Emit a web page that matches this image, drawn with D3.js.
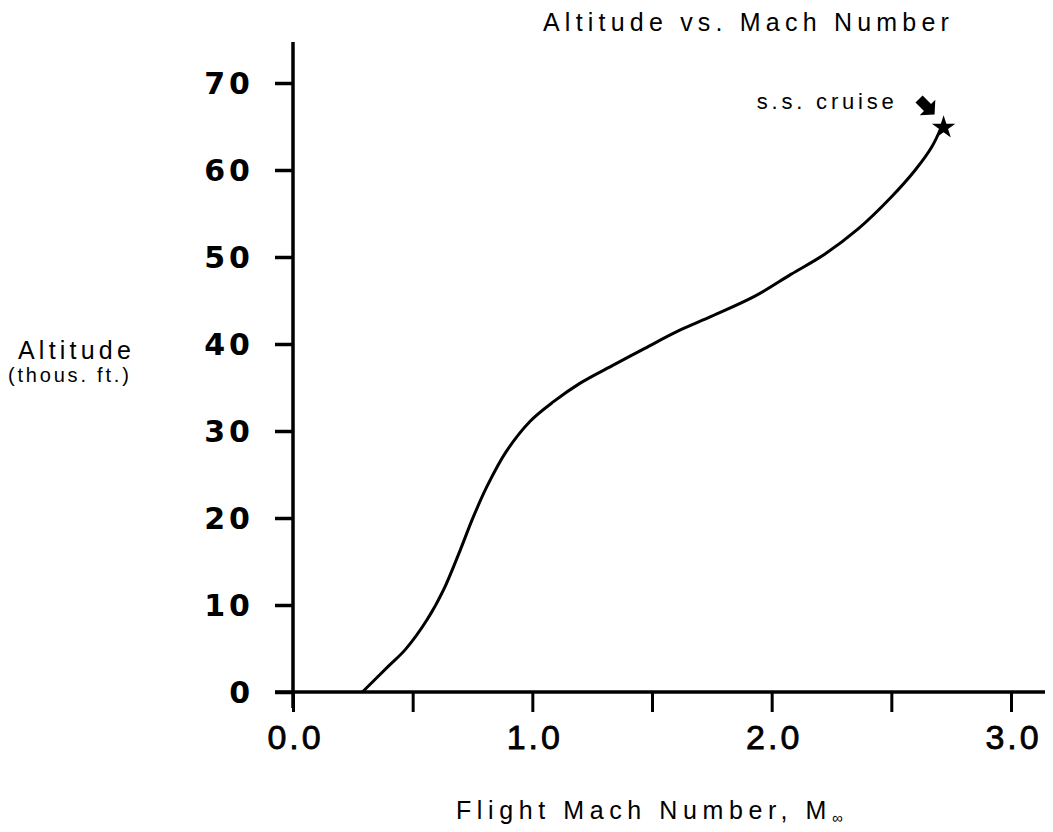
<!DOCTYPE html>
<html>
<head>
<meta charset="utf-8">
<script src="https://cdn.jsdelivr.net/npm/d3@7"></script>
<style>
  html, body { margin: 0; padding: 0; background: #fff; }
  svg { display: block; }
  .tick text { fill: #000; }
</style>
</head>
<body>
<svg id="chart" width="1053" height="832"></svg>
<script>
// ---- data ----
const machNumber = [0.29, 0.40, 0.47, 0.56, 0.63, 0.70, 0.75, 0.81, 0.89, 0.99, 1.09, 1.20, 1.34, 1.47, 1.61, 1.75, 1.93, 2.08, 2.22, 2.36, 2.50, 2.60, 2.67, 2.71];
const altitude   = [0,    3.0,  4.9,  8.3,  11.8, 16.4, 19.9, 23.6, 27.6, 31.1, 33.4, 35.5, 37.6, 39.5, 41.5, 43.2, 45.5, 48.0, 50.3, 53.2, 56.9, 60.0, 62.7, 65.0];
const xTicks = [0, 0.5, 1, 1.5, 2, 2.5, 3];
const yTicks = [0, 10, 20, 30, 40, 50, 60, 70];
const cruisePoint = { mach: 2.71, alt: 65.0, label: "s.s. cruise" };
const titleText = "Altitude vs. Mach Number";

const SANS = "'Liberation Sans', Arial, sans-serif";

// ---- scales ----
const svg = d3.select("#chart");
const x = d3.scaleLinear().domain([0, 3]).range([293, 1011]);
const y = d3.scaleLinear().domain([0, 70]).range([692, 83]);

// ---- axes ----
const yAxis = d3.axisLeft(y).tickValues(yTicks).tickSize(18).tickPadding(21).tickFormat(d3.format("d"));
const gy = svg.append("g").attr("transform", `translate(${x(0)},0)`).call(yAxis);
gy.select(".domain").remove();
gy.selectAll(".tick line").attr("stroke", "#000").attr("stroke-width", 3.5);
gy.selectAll(".tick text")
  .attr("font-family", "'DejaVu Sans', sans-serif")
  .attr("font-weight", "bold").attr("font-size", 30).attr("letter-spacing", 4)
  .attr("dy", "0.36em");

const xAxis = d3.axisBottom(x).tickValues(xTicks).tickSize(20).tickPadding(13)
  .tickFormat(d => Number.isInteger(d) ? d3.format(".1f")(d) : "");
const gx = svg.append("g").attr("transform", `translate(0,${y(0)})`).call(xAxis);
gx.select(".domain").remove();
gx.selectAll(".tick line").attr("stroke", "#000").attr("stroke-width", 3);
gx.selectAll(".tick text")
  .attr("font-family", SANS)
  .attr("font-size", 34).attr("letter-spacing", 3)
  .attr("stroke", "#000").attr("stroke-width", 0.8)
  .attr("dx", 2);

// axis lines (extended slightly beyond data range)
svg.append("line").attr("x1", x(0)).attr("x2", x(0)).attr("y1", 42).attr("y2", y(0) + 16)
  .attr("stroke", "#000").attr("stroke-width", 3.5);
svg.append("line").attr("x1", x(0) - 18).attr("x2", 1045).attr("y1", y(0)).attr("y2", y(0))
  .attr("stroke", "#000").attr("stroke-width", 3.5);

// ---- curve ----
const pts = machNumber.map((m, i) => [m, altitude[i]]);
const line = d3.line().x(d => x(d[0])).y(d => y(d[1])).curve(d3.curveCatmullRom.alpha(0.5));
svg.append("path").datum(pts).attr("d", line)
  .attr("fill", "none").attr("stroke", "#000").attr("stroke-width", 3);

// star at cruise point
const cx = x(cruisePoint.mach), cy = y(cruisePoint.alt);
svg.append("path")
  .attr("d", d3.symbol().type(d3.symbolStar).size(170)())
  .attr("transform", `translate(${cx + 2},${cy + 1})`)
  .attr("fill", "#000");

// annotation text and arrow
svg.append("text").attr("x", cx - 44).attr("y", cy - 18).attr("text-anchor", "end")
  .attr("font-family", SANS).attr("font-size", 22)
  .attr("letter-spacing", 3.8).text(cruisePoint.label);
// fat arrow pointing down-right toward star
svg.append("path")
  .attr("transform", `translate(${cx - 7},${cy - 12}) rotate(-45)`)
  .attr("d", "M0,0 L-11,-10 L-5,-10 L-5,-22 L5,-22 L5,-10 L11,-10 Z")
  .attr("fill", "#000");

// ---- titles ----
svg.append("text").attr("x", 543).attr("y", 31).attr("text-anchor", "start")
  .attr("font-family", SANS).attr("font-size", 25)
  .attr("letter-spacing", 5.2).text(titleText);

const xt = svg.append("text").attr("x", 456).attr("y", 819).attr("text-anchor", "start")
  .attr("font-family", SANS).attr("font-size", 25)
  .attr("letter-spacing", 5.6);
xt.append("tspan").text("Flight Mach Number, M");
xt.append("tspan").attr("font-size", 15).attr("dy", 4).attr("letter-spacing", 0).text("∞");

svg.append("text").attr("x", 18).attr("y", 359).attr("text-anchor", "start")
  .attr("font-family", SANS).attr("font-size", 25)
  .attr("letter-spacing", 4.2).text("Altitude");
svg.append("text").attr("x", 8).attr("y", 382).attr("text-anchor", "start")
  .attr("font-family", SANS).attr("font-size", 20)
  .attr("letter-spacing", 2.8).text("(thous. ft.)");
</script>
</body>
</html>
